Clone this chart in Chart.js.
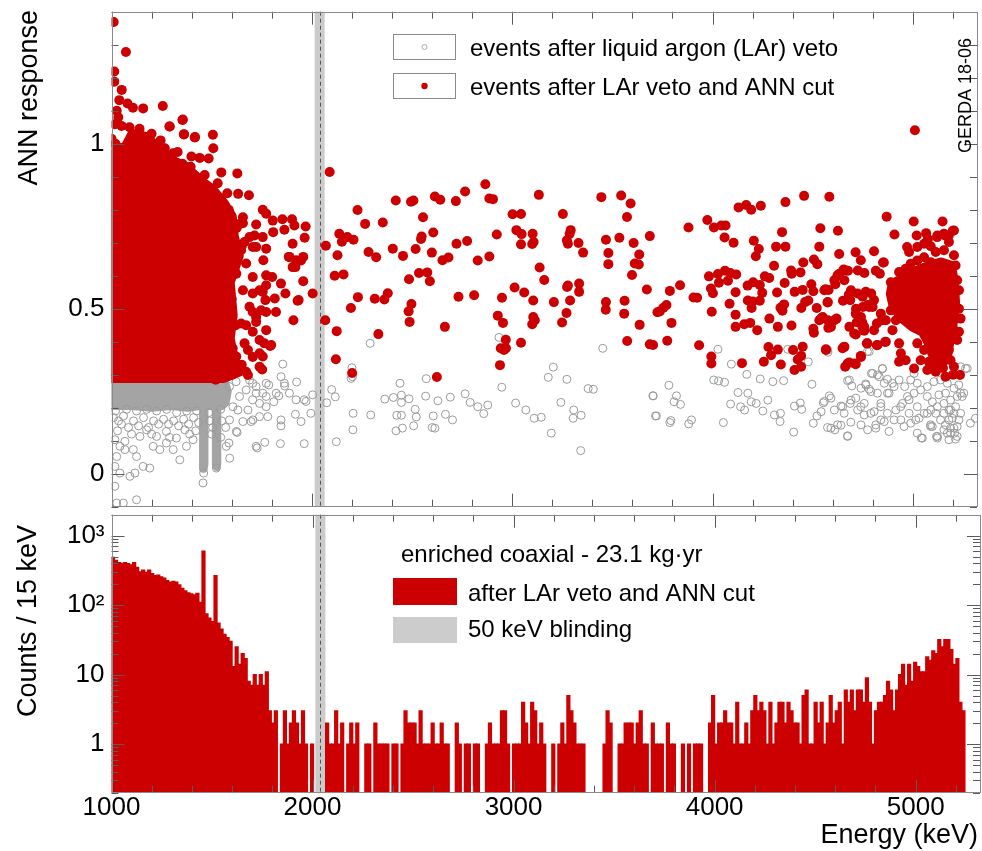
<!DOCTYPE html>
<html lang="en">
<head>
<meta charset="UTF-8">
<title>ANN response and energy spectrum, enriched coaxial</title>
<script src="https://cdn.jsdelivr.net/npm/chart.js"></script>
<style>
  html, body { margin: 0; padding: 0; background: #fff; }
  #wrap { position: relative; width: 982px; height: 851px; }
  canvas { position: absolute; left: 0; }
  #top { top: 0; }
  #bottom { top: 512px; }
</style>
</head>
<body>
<div id="wrap">
  <canvas id="top" width="982" height="512"></canvas>
  <canvas id="bottom" width="982" height="339"></canvas>
</div>
<script>
// ---- axes ----
const energyRange = [1000, 5320];
const annRange = [-0.1, 1.4];
const countRange = [0.2, 2000];
const energyTicks = [1000, 2000, 3000, 4000, 5000];
const annTicks = [0, 0.5, 1];
const countTicks = [1, 10, 100, 1000];
const countTickLabels = ['1', '10', '10²', '10³'];
const blindWindow = [2014, 2064];
const qbb = 2039;

// ---- top panel: events after LAr veto and ANN cut (red, filled) [keV, ANN] ----
const cutEvents = [
  [1011,1.369],[1072,1.278],[1014,1.219],[1014,1.188],[1051,1.163],[1039,1.132],[1080,1.122],[1107,1.109],[1158,1.107],[1256,1.114],
  [1026,1.100],[1034,1.080],[1017,1.059],[1050,1.054],[1354,1.072],[1289,1.052],[1361,1.028],[1417,1.020],[1506,1.027],[1508,0.986],
  [1266,0.986],[1307,0.971],[1354,0.939],[1399,0.961],[1440,0.957],[1485,0.955],[1548,0.913],[1628,0.910],[1578,0.850],[1632,0.848],
  [1686,0.844],[1755,0.800],[1772,0.788],[1805,0.767],[1853,0.771],[1901,0.771],[1656,0.759],[1722,0.755],[1807,0.732],[1863,0.739],
  [1913,0.752],[1969,0.749],[1964,0.715],[1904,0.697],[1705,0.687],[1772,0.682],[1664,0.702],[1888,0.657],[1957,0.657],[1755,0.717],
  [1714,0.722],[1918,0.626],[1946,0.646],[1957,0.583],[1846,0.576],[1868,0.546],[2004,0.546],[1815,0.531],[1821,0.490],[1929,0.524],
  [1908,0.465],[1772,0.601],[1802,0.596],[1772,0.571],[1705,0.546],[1755,0.551],[1768,0.526],[1705,0.490],[1747,0.495],[1772,0.490],
  [1722,0.460],[1672,0.450],[1705,0.430],[1772,0.435],[1739,0.405],[1763,0.395],[1797,0.390],[1705,0.354],[1739,0.365],[1681,0.375],
  [1752,0.316],[1681,0.299],[1672,0.309],[1356,1.073],[1291,1.052],[1362,1.029],[1415,1.019],[1934,0.526],[1885,0.657],[1921,0.647],
  [1904,0.626],[1758,0.647],[1792,0.387],[1755,0.355],[1739,0.324],[1689,0.717],[1722,0.687],[1672,0.637],[1705,0.596],[1739,0.556],
  [1689,0.506],[1722,0.475],[1656,0.777],[1639,0.757],[1647,0.677],[1623,0.606],[1656,0.556],[1647,0.455],[1664,0.395],[1623,0.355],
  [1000,1.015],[1020,1.000],[1090,1.050],[1140,1.045],[1200,1.030],[1245,1.010],[1330,0.975],[1395,0.930],[1465,0.905],[1530,0.880],
  [1585,0.800],[1625,0.745],[1650,0.690],[1615,0.615],[1600,0.530],[1620,0.450],[1605,0.380],[1650,0.330],[1600,0.300],[1520,0.285],
  [2089,0.914],[2070,0.691],[2128,0.662],[2137,0.727],[2150,0.703],[2177,0.717],[2208,0.709],[2228,0.799],[2266,0.757],[2354,0.761],
  [2283,0.672],[2321,0.656],[2404,0.682],[2419,0.828],[2455,0.660],[2495,0.824],[2507,0.828],[2555,0.777],[2545,0.711],[2548,0.719],
  [2518,0.681],[2606,0.731],[2599,0.670],[2614,0.840],[2641,0.830],[2719,0.826],[2765,0.855],[2722,0.697],[2775,0.705],[2652,0.647],
  [2682,0.655],[2535,0.608],[2576,0.610],[2589,0.583],[2485,0.589],[2114,0.600],[2158,0.604],[2230,0.535],[2195,0.502],[2314,0.530],
  [2362,0.528],[2379,0.547],[2497,0.514],[2483,0.492],[2488,0.460],[2067,0.465],[2124,0.432],[2332,0.423],[2120,0.347],[2201,0.305],
  [2624,0.293],[2664,0.445],[2732,0.536],[2810,0.541],[2866,0.877],[2886,0.834],[2904,0.832],[2828,0.646],[2886,0.658],[2923,0.725],
  [3002,0.786],[3044,0.787],[3021,0.738],[3047,0.726],[3044,0.695],[3102,0.727],[3107,0.702],[3100,0.696],[3133,0.845],[3137,0.625],
  [3160,0.587],[3012,0.564],[3060,0.549],[3105,0.525],[2949,0.533],[2928,0.479],[2954,0.457],[2968,0.406],[2943,0.380],[2959,0.375],
  [2969,0.380],[2939,0.329],[3044,0.397],[3105,0.475],[3113,0.465],[3100,0.453],[3208,0.520],[3253,0.787],[3292,0.738],[3287,0.727],
  [3273,0.707],[3278,0.697],[3331,0.699],[3354,0.670],[3278,0.570],[3274,0.566],[3334,0.576],[3334,0.551],[3289,0.525],[3271,0.487],
  [3249,0.458],[3445,0.838],[3544,0.843],[3591,0.819],[3573,0.778],[3468,0.709],[3535,0.715],[3606,0.699],[3480,0.669],[3480,0.635],
  [3634,0.664],[3612,0.637],[3632,0.634],[3598,0.602],[3687,0.720],[3672,0.558],[3468,0.520],[3467,0.497],[3561,0.524],[3559,0.485],
  [3636,0.451],[3574,0.402],[3687,0.392],[3703,0.390],[3725,0.489],
  [5010,1.041],[3880,0.746],[3974,0.769],[4007,0.746],[4044,0.752],[4065,0.752],[4060,0.716],[4105,0.700],[4130,0.807],[4168,0.814],
  [4193,0.800],[4241,0.812],[4364,0.823],[4457,0.842],[4583,0.839],[4347,0.732],[4317,0.688],[4364,0.688],[4206,0.706],[4231,0.681],
  [4216,0.659],[4538,0.744],[4626,0.736],[4533,0.688],[4632,0.666],[4307,0.630],[4453,0.640],[4506,0.649],[4523,0.635],[4392,0.616],
  [4439,0.610],[3982,0.598],[4027,0.605],[4062,0.615],[4089,0.608],[4118,0.604],[4032,0.579],[4077,0.585],[4175,0.570],[4203,0.580],
  [4236,0.572],[4261,0.598],[4283,0.593],[3992,0.561],[4002,0.547],[4115,0.550],[4176,0.525],[4200,0.522],[4195,0.502],[4248,0.548],
  [4322,0.549],[4360,0.578],[4395,0.606],[4410,0.551],[4450,0.557],[4493,0.574],[4503,0.553],[4564,0.559],[4579,0.557],[4613,0.574],
  [4627,0.601],[4654,0.619],[4676,0.615],[4714,0.671],[4740,0.647],[4806,0.674],[4851,0.640],[4815,0.615],[4835,0.606],[4725,0.616],
  [4758,0.608],[3905,0.534],[3923,0.533],[3838,0.571],[3787,0.554],[3770,0.511],[3755,0.503],[3737,0.492],[3795,0.457],[3774,0.403],
  [3933,0.389],[3996,0.491],[4085,0.515],[4115,0.482],[4115,0.445],[4158,0.453],[4188,0.457],[4223,0.435],[4236,0.524],[4284,0.470],
  [4326,0.445],[4339,0.503],[4349,0.494],[4357,0.513],[4394,0.449],[4462,0.520],[4478,0.525],[4443,0.502],[4520,0.502],[4574,0.519],
  [4541,0.470],[4503,0.439],[4506,0.427],[4578,0.442],[4588,0.449],[4619,0.470],[4651,0.524],[4680,0.542],[4687,0.526],[4715,0.485],
  [4720,0.459],[4750,0.505],[4765,0.551],[4782,0.505],[4792,0.546],[4806,0.526],[4748,0.445],[4757,0.433],[4748,0.457],[4715,0.422],
  [4773,0.395],[4820,0.389],[4861,0.399],[4806,0.435],[4845,0.465],[4566,0.377],[4656,0.383],[4740,0.357],[4682,0.337],[4662,0.324],
  [4715,0.332],[4442,0.357],[4425,0.346],[4450,0.385],[4402,0.375],[4409,0.314],[4442,0.324],[4341,0.331],[4256,0.339],[4292,0.359],
  [4279,0.384],[4326,0.376],[4147,0.335],[3994,0.355],[3994,0.334],[4869,0.779],[4908,0.725],[5004,0.764],[5019,0.722],[5148,0.764],
  [5199,0.736],[5160,0.722],[5179,0.722],[5121,0.717],[5066,0.729],[4855,0.640],[4971,0.687],[4981,0.672],[5022,0.687],[5056,0.697],
  [5075,0.711],[5089,0.689],[5122,0.722],[5155,0.727],[5205,0.737],[5180,0.702],[5114,0.672],[5155,0.677],[5205,0.662],[5213,0.631],
  [5022,0.646],[5056,0.656],[5089,0.641],[4931,0.611],[4964,0.621],[4989,0.636],[5221,0.586],[5230,0.556],[5230,0.500],[5238,0.470],
  [5230,0.430],[5221,0.405],[5235,0.299],[5163,0.294],[5114,0.309],[5072,0.314],[5205,0.324],[5097,0.365],[5056,0.375],[5022,0.395],
  [5138,0.354],[5180,0.375],[5039,0.344],[5080,0.339],[5188,0.344],[4931,0.395],[4940,0.365],[4964,0.344],[5006,0.319],[4931,0.339],
  [4898,0.435],[4915,0.465],[4890,0.495],[4865,0.465],[4840,0.485],[4820,0.455],[4799,0.505],[4774,0.511],[4749,0.536],[4724,0.546],
  [4691,0.556],[4666,0.616],[4658,0.586],[4633,0.606],[4716,0.500],[4741,0.475],[4757,0.445],[4770,0.395],[4823,0.390],[4683,0.445],
  [4658,0.385],[4707,0.425],[4741,0.354],[4707,0.334],[4674,0.334],[4865,0.400],[4608,0.465],[4591,0.445],[4575,0.465],[4550,0.475],
  [4533,0.465],[4566,0.375],[4649,0.380],[4558,0.556],[4575,0.520],[4608,0.586],[4624,0.601],
  [4890,0.580],[4905,0.545],[4950,0.520],[4985,0.575],[5030,0.600],[5000,0.520],[4960,0.480],[5050,0.480],[5095,0.430],[5110,0.600],
  [5170,0.620],[5190,0.580],[5150,0.500],[5200,0.440],[5170,0.400],[5120,0.380],[5090,0.330],[5150,0.320],[5200,0.300],[5060,0.560],
  [4920,0.570],[5010,0.460],[5100,0.510],[5210,0.520],[5140,0.440]
];
// saturated regions where the red markers overlap completely (outline of marker centres)
const cutCoreLow = [
  [1000,0.98],[1070,0.99],[1105,1.03],[1175,1.02],[1225,0.99],[1300,0.95],[1370,0.93],[1440,0.89],[1505,0.86],[1560,0.82],
  [1600,0.78],[1610,0.72],[1635,0.66],[1590,0.58],[1605,0.48],[1590,0.41],[1610,0.35],[1640,0.31],[1560,0.29],[1000,0.29]
];
const cutCoreHigh = [
  [4900,0.575],[4960,0.595],[5020,0.615],[5080,0.630],[5140,0.640],[5190,0.630],[5205,0.580],[5210,0.520],[5200,0.460],[5185,0.410],
  [5170,0.355],[5140,0.330],[5110,0.345],[5085,0.390],[5050,0.430],[5000,0.445],[4950,0.470],[4905,0.505],[4890,0.545]
];

// ---- top panel: events after LAr veto (grey, open) [keV, ANN] ----
const vetoEvents = [
  [1017,0.103],[1042,0.083],[1067,0.098],[1026,0.052],[1017,0.022],[1042,0.002],[1067,0.073],[1109,0.073],[1125,0.052],[1158,0.022],
  [1191,0.017],[1117,0.002],[1092,-0.008],[1017,-0.038],[1026,-0.089],[1059,-0.089],[1125,-0.079],[1208,0.083],[1241,0.073],[1274,0.093],
  [1308,0.073],[1341,0.042],[1374,0.083],[1407,0.103],[1142,0.113],[1175,0.133],[1225,0.113],[1274,0.128],[1324,0.108],[1366,0.133],
  [1573,0.083],[1590,0.047],[1623,0.128],[1656,0.158],[1681,0.193],[1706,0.163],[1722,0.083],[1457,-0.028],[1460,0.002],[1523,0.017],
  [1030,0.130],[1100,0.120],[1200,0.120],[1290,0.110],[1420,0.130],[1500,0.120],[1545,0.110],[1050,0.150],[1390,0.120],
  [1010,0.170],[1035,0.160],[1060,0.175],[1085,0.140],[1110,0.160],[1135,0.145],[1160,0.170],[1185,0.140],[1210,0.160],[1235,0.150],
  [1260,0.165],[1285,0.150],[1310,0.160],[1335,0.145],[1360,0.165],[1385,0.150],[1410,0.170],[1435,0.155],[1490,0.160],[1505,0.140],
  [1550,0.160],[1570,0.140],[1020,0.190],[1075,0.195],[1125,0.190],[1175,0.195],[1225,0.190],[1275,0.195],[1325,0.185],[1375,0.190],
  [1425,0.190],[1485,0.185],[1545,0.195],
  [1589,0.264],[1622,0.279],[1639,0.234],[1672,0.254],[1606,0.203],[1589,0.163],[1631,0.193],[1705,0.274],[1722,0.244],[1739,0.213],
  [1772,0.234],[1772,0.203],[1780,0.173],[1739,0.173],[1697,0.158],[1627,0.125],[1586,0.093],[1727,0.078],[1765,0.095],[1843,0.091],
  [1962,0.091],[1855,0.332],[1846,0.294],[1924,0.278],[1864,0.266],[1888,0.244],[1921,0.224],[1962,0.224],[2004,0.239],[1995,0.183],
  [1946,0.158],[1918,0.180],[1846,0.163],[1846,0.145],[1810,0.218],[1785,0.269],[1835,0.236],[1863,0.274],[1772,0.274],[1722,0.264],
  [1689,0.284],[1755,0.244],[1705,0.224],[1822,0.244],[1971,0.219],
  [2291,0.395],[2200,0.321],[2196,0.289],[2203,0.294],[2099,0.255],[2117,0.233],[2074,0.215],[2206,0.183],[2205,0.133],[2122,0.097],
  [2294,0.178],[2364,0.226],[2407,0.231],[2447,0.238],[2485,0.227],[2447,0.216],[2440,0.274],[2571,0.288],[2568,0.235],[2629,0.221],
  [2691,0.232],[2424,0.177],[2447,0.177],[2516,0.195],[2521,0.172],[2606,0.175],[2667,0.180],[2702,0.163],[2420,0.130],[2452,0.138],
  [2508,0.145],[2601,0.140],[2614,0.138],[2765,0.242],[2790,0.216],[2828,0.203],[2878,0.208],[2858,0.182],[2948,0.262],[2934,0.413],
  [3017,0.214],[3068,0.193],[3110,0.168],[3145,0.171],[3180,0.292],[3205,0.323],[3273,0.286],[3243,0.216],[3307,0.193],[3304,0.168],
  [3344,0.177],[3195,0.123],[3342,0.070],[3379,0.258],[3405,0.256],[3452,0.380],[3702,0.236],[3715,0.175],
  [4027,0.377],[4094,0.332],[4006,0.284],[4030,0.281],[4060,0.277],[4171,0.301],[4238,0.287],[4301,0.279],[4355,0.282],[4375,0.377],
  [4576,0.368],[4478,0.339],[3704,0.236],[3820,0.236],[3782,0.268],[3808,0.218],[3840,0.210],[3720,0.175],[3787,0.155],[3792,0.161],
  [3881,0.151],[3895,0.163],[4054,0.155],[4090,0.211],[4140,0.203],[4160,0.193],[4127,0.246],[4176,0.244],[4193,0.218],[4218,0.213],
  [4251,0.190],[4276,0.223],[4309,0.178],[4339,0.183],[4337,0.158],[4405,0.126],[4409,0.205],[4438,0.214],[4445,0.195],[4496,0.271],
  [4503,0.153],[4521,0.175],[4553,0.215],[4583,0.236],[4574,0.140],[4611,0.133],[4641,0.147],[4674,0.115],[4690,0.156],[4641,0.205],
  [4657,0.183],[4687,0.213],[4715,0.229],[4740,0.203],[4674,0.282],[4695,0.266],[4765,0.269],[4782,0.256],[4793,0.304],[4823,0.299],
  [4848,0.318],[4873,0.286],[4898,0.274],[4773,0.370],[4815,0.148],[4840,0.163],[4881,0.128],[4757,0.178],[4806,0.188],[4840,0.213],
  [4873,0.244],[4939,0.203],[4981,0.224],[5014,0.163],[5042,0.108],[5088,0.148],[5118,0.113],[5155,0.133],[5188,0.123],[5213,0.105],
  [5238,0.324],[5263,0.319],[5287,0.153],[5312,0.168],[5229,0.269],[5246,0.234],
  [4575,0.375],[4782,0.370],[4683,0.284],[4799,0.304],[4832,0.294],[4848,0.319],[4741,0.259],[4765,0.272],[4790,0.249],[4823,0.244],
  [4857,0.274],[4881,0.244],[4906,0.264],[4931,0.284],[4959,0.264],[4989,0.284],[5006,0.304],[5022,0.274],[4591,0.229],[4558,0.219],
  [4542,0.188],[4608,0.193],[4649,0.203],[4691,0.223],[4724,0.193],[4757,0.213],[4790,0.183],[4840,0.203],[4873,0.183],[4915,0.193],
  [4948,0.213],[4973,0.234],[5006,0.244],[5039,0.254],[5072,0.264],[5105,0.279],[5138,0.284],[5172,0.274],[5205,0.259],[5238,0.244],
  [5271,0.319],[4591,0.138],[4624,0.148],[4674,0.113],[4741,0.148],[4774,0.133],[4815,0.138],[4857,0.158],[4906,0.163],[4956,0.143],
  [4989,0.153],[5031,0.168],[5056,0.183],[5089,0.193],[5122,0.203],[5155,0.213],[5188,0.223],[5221,0.234],[5254,0.244],[5022,0.123],
  [5047,0.108],[5097,0.143],[5122,0.108],[5172,0.123],[5180,0.163],[5205,0.183],[5221,0.143],[5238,0.183],[5213,0.203],[5155,0.183],
  [5180,0.193],[5197,0.168],[5138,0.163],[5114,0.183],[5163,0.148],[5188,0.138],[5208,0.123],[5230,0.163],[5072,0.234],[5097,0.218],
  [5130,0.239],[5163,0.244],[5188,0.193],[5072,0.183],[5022,0.203],[4981,0.183],[4940,0.163],[5089,0.143],[5221,0.113],[5180,0.103],
  [5122,0.113],[5205,0.138]
];
// saturated grey band below the cut and the K-40 / K-42 lines
const vetoCore = [
  [1000,0.28],[1565,0.28],[1580,0.25],[1570,0.215],[1550,0.205],[1440,0.205],[1380,0.2],[1300,0.205],[1200,0.2],[1100,0.205],
  [1000,0.205]
];
const vetoK40 = [[1457,0.2],[1464,0.2],[1464,0.03],[1460,0.015],[1457,0.03]];
const vetoK42 = [[1521,0.2],[1528,0.2],[1528,0.03],[1525,0.02],[1521,0.03]];

// ---- bottom panel: counts per 15 keV bin from 1000 keV ----
const histStart = 1000;
const binWidth = 15;
const counts = [
  487,440,410,400,410,395,380,410,350,300,
  320,295,320,285,265,270,255,245,225,215,
  220,215,195,175,160,150,145,140,148,110,
  600,75,65,58,265,55,45,38,34,30,
  13,25,14,20,17,8,7,10,7,10,
  7,11,3,2,3,0,1,3,1,2,
  3,2,1,3,1,0,1,
  0,0,0,0,
  2,1,1,3,1,2,0,1,2,1,
  2,0,0,1,1,0,2,1,1,1,
  1,0,1,1,0,1,3,2,2,2,
  1,3,1,1,1,2,1,1,2,1,
  1,0,0,2,1,0,1,1,0,1,
  1,0,0,1,2,1,1,1,3,3,
  1,0,1,1,1,4,2,1,4,3,
  1,2,1,0,0,1,0,1,2,1,
  5,3,2,1,1,1,0,0,0,0,
  0,0,1,3,2,0,0,1,1,2,
  2,2,1,2,3,1,1,0,2,1,
  1,1,0,2,1,1,0,0,1,0,
  1,0,1,1,1,0,0,2,5,1,
  2,2,3,2,2,1,4,1,1,2,
  1,3,5,3,4,3,1,4,1,2,
  4,4,2,4,3,2,2,1,5,6,
  1,1,4,2,4,1,2,5,2,3,
  4,1,6,4,6,3,6,6,4,9,
  4,1,3,4,4,5,8,6,3,6,
  10,14,7,14,8,15,13,11,11,18,
  16,22,20,32,25,32,32,23,14,17,
  4,3
];

const legendVeto = 'events after liquid argon (LAr) veto';
const legendCut = 'events after LAr veto and ANN cut';
const exposureLabel = 'enriched coaxial - 23.1 kg·yr';
const histLabel = 'after LAr veto and ANN cut';
const blindLabel = '50 keV blinding';

// ---- styling ----
const RED = '#cc0000';
const GREY = '#9a9a9a';
const GREY_FILL = '#a4a4a4';
const RED_R = 5;
const GREY_R = 4;
const FONT = "'Liberation Sans', Arial, Helvetica, sans-serif";
Chart.defaults.font.family = FONT;
Chart.defaults.color = '#000';

const toXY = pts => pts.map(([x, y]) => ({x, y}));
const closed = pts => toXY(pts.concat([pts[0]]));
const polygon = (pts, color, width, order) => ({
  type: 'line', data: closed(pts), borderColor: color, backgroundColor: color,
  borderWidth: width, borderJoinStyle: 'round', borderCapStyle: 'round',
  pointRadius: 0, fill: 'shape', tension: 0, clip: 0, order
});
// keep the chart area where the frame is, whatever the tick labels need
const noPad = s => { s.paddingTop = 0; s.paddingBottom = 0; s.paddingLeft = 0; s.paddingRight = 0; };

const annMarks = [];
for (let i = -1; i <= 14; i++) annMarks.push([i / 10, i % 5 === 0]);
const countMarks = [];
[0.1, 1, 10, 100, 1000].forEach(d => {
  for (let m = 1; m <= 9; m++) {
    const v = m * d;
    if (v >= 0.2 && v <= 2000) countMarks.push([v, m === 1]);
  }
});

function vText(ctx, text, x, yEnd, font) {
  ctx.save();
  ctx.font = font;
  ctx.textAlign = 'right';
  ctx.textBaseline = 'alphabetic';
  ctx.translate(x, yEnd);
  ctx.rotate(-Math.PI / 2);
  ctx.fillText(text, 0, 0);
  ctx.restore();
}

const blinding = {
  id: 'blinding',
  beforeDatasetsDraw(chart) {
    const {ctx, chartArea: a, scales: {x}} = chart;
    const x0 = x.getPixelForValue(blindWindow[0]);
    const x1 = x.getPixelForValue(blindWindow[1]);
    const xq = Math.round(x.getPixelForValue(qbb)) + 0.5;
    ctx.save();
    ctx.fillStyle = '#cbcbcb';
    ctx.fillRect(x0, a.top, x1 - x0, a.bottom - a.top);
    ctx.strokeStyle = '#555';
    ctx.lineWidth = 1;
    ctx.setLineDash([4, 3]);
    ctx.beginPath();
    ctx.moveTo(xq, a.top);
    ctx.lineTo(xq, a.bottom);
    ctx.stroke();
    ctx.restore();
  }
};

// frame with inward ticks, drawn on all four sides
const frame = {
  id: 'frame',
  afterDatasetsDraw(chart, args, opts) {
    const {ctx, chartArea: a, scales: {x, y}} = chart;
    ctx.save();
    ctx.lineWidth = 1;
    ctx.strokeStyle = '#5a5a5a';
    ctx.beginPath();
    for (let e = energyRange[0]; e <= energyRange[1]; e += 200) {
      const p = Math.round(x.getPixelForValue(e)) + 0.5;
      const len = e % 1000 === 0 ? 13 : 7;
      ctx.moveTo(p, a.bottom); ctx.lineTo(p, a.bottom - len);
      ctx.moveTo(p, a.top); ctx.lineTo(p, a.top + len);
    }
    for (const [v, major] of opts.yMarks) {
      const p = Math.round(y.getPixelForValue(v)) + 0.5;
      const len = major ? 13 : 7;
      ctx.moveTo(a.left, p); ctx.lineTo(a.left + len, p);
      ctx.moveTo(a.right, p); ctx.lineTo(a.right - len, p);
    }
    ctx.stroke();
    ctx.strokeStyle = '#8a8a8a';
    ctx.strokeRect(Math.round(a.left) + 0.5, Math.round(a.top) + 0.5,
                   Math.round(a.right - a.left) - 1, Math.round(a.bottom - a.top) - 1);
    ctx.restore();
  }
};

const topText = {
  id: 'topText',
  afterDraw(chart) {
    const ctx = chart.ctx;
    ctx.save();
    ctx.fillStyle = '#000';
    vText(ctx, 'ANN response', 37, 10, `27px ${FONT}`);
    vText(ctx, 'GERDA 18-06', 971, 38, `18px ${FONT}`);
    ctx.strokeStyle = '#8a8a8a';
    ctx.lineWidth = 1;
    ctx.strokeRect(393.5, 34.5, 62, 25);
    ctx.strokeRect(393.5, 73.5, 62, 25);
    ctx.beginPath();
    ctx.arc(424.5, 47, 2.5, 0, 2 * Math.PI);
    ctx.strokeStyle = '#aaa';
    ctx.stroke();
    ctx.beginPath();
    ctx.arc(424.5, 86, 3.2, 0, 2 * Math.PI);
    ctx.fillStyle = RED;
    ctx.fill();
    ctx.fillStyle = '#000';
    ctx.font = `24px ${FONT}`;
    ctx.textAlign = 'left';
    ctx.textBaseline = 'alphabetic';
    ctx.fillText(legendVeto, 470, 55.5);
    ctx.fillText(legendCut, 470, 94.5);
    ctx.restore();
  }
};

const bottomText = {
  id: 'bottomText',
  afterDraw(chart) {
    const ctx = chart.ctx;
    ctx.save();
    ctx.fillStyle = '#000';
    vText(ctx, 'Counts / 15 keV', 36, 13, `27px ${FONT}`);
    ctx.font = `27px ${FONT}`;
    ctx.textAlign = 'right';
    ctx.textBaseline = 'alphabetic';
    ctx.fillText('Energy (keV)', 978, 331);
    ctx.font = `24px ${FONT}`;
    ctx.textAlign = 'left';
    ctx.fillText(exposureLabel, 401, 50);
    ctx.fillStyle = RED;
    ctx.fillRect(393, 66, 64, 27);
    ctx.fillStyle = '#cccccc';
    ctx.fillRect(393, 105, 64, 26);
    ctx.fillStyle = '#000';
    ctx.fillText(histLabel, 468, 88.5);
    ctx.fillText(blindLabel, 468, 124.5);
    ctx.restore();
  }
};

const noGrid = {display: false, drawTicks: false};

new Chart(document.getElementById('top'), {
  type: 'scatter',
  data: {
    datasets: [
      {data: toXY(cutEvents), pointRadius: RED_R, pointBackgroundColor: RED, pointBorderWidth: 0, order: 0},
      polygon(cutCoreLow, RED, 2 * RED_R, 1),
      polygon(cutCoreHigh, RED, 2 * RED_R, 1),
      {data: toXY(vetoEvents), pointRadius: GREY_R, pointBackgroundColor: 'rgba(0,0,0,0)',
       pointBorderColor: GREY, pointBorderWidth: 1, order: 2},
      polygon(vetoCore, GREY_FILL, 2 * GREY_R, 3),
      polygon(vetoK40, GREY_FILL, 2 * GREY_R, 3),
      polygon(vetoK42, GREY_FILL, 2 * GREY_R, 3)
    ]
  },
  options: {
    responsive: false, animation: false, devicePixelRatio: 1, events: [],
    layout: {padding: {top: 11.7, right: 2, bottom: 5.3, left: 0}},
    scales: {
      x: {type: 'linear', min: energyRange[0], max: energyRange[1], display: false},
      y: {
        type: 'linear', min: annRange[0], max: annRange[1],
        afterFit: s => { s.width = 111.5; noPad(s); },
        afterBuildTicks: s => { s.ticks = annTicks.map(value => ({value})); },
        grid: noGrid, border: {display: false},
        ticks: {padding: 7, font: {size: 26}, color: '#000', autoSkip: false, callback: v => String(v)}
      }
    },
    plugins: {legend: {display: false}, tooltip: {enabled: false}, frame: {yMarks: annMarks}}
  },
  plugins: [blinding, frame, topText]
});

new Chart(document.getElementById('bottom'), {
  type: 'bar',
  data: {
    datasets: [{
      data: counts.map((c, i) => ({x: histStart + binWidth * (i + 0.5), y: c > 0 ? c : null})),
      backgroundColor: RED, borderWidth: 0, barPercentage: 1, categoryPercentage: 1, inflateAmount: 0.6
    }]
  },
  options: {
    responsive: false, animation: false, devicePixelRatio: 1, events: [],
    layout: {padding: {top: 2.7, right: 2, bottom: 0, left: 0}},
    scales: {
      x: {
        type: 'linear', min: energyRange[0], max: energyRange[1], offset: false,
        afterFit: s => { s.height = 58.3; noPad(s); },
        afterBuildTicks: s => { s.ticks = energyTicks.map(value => ({value})); },
        grid: noGrid, border: {display: false},
        ticks: {padding: 0, font: {size: 26}, color: '#000', maxRotation: 0, autoSkip: false, callback: v => String(v)}
      },
      y: {
        type: 'logarithmic', min: countRange[0], max: countRange[1],
        afterFit: s => { s.width = 111.5; noPad(s); },
        afterBuildTicks: s => { s.ticks = countTicks.map(value => ({value})); },
        grid: noGrid, border: {display: false},
        ticks: {padding: 7, font: {size: 26}, color: '#000', autoSkip: false,
                callback: v => countTickLabels[countTicks.indexOf(v)]}
      }
    },
    plugins: {legend: {display: false}, tooltip: {enabled: false}, frame: {yMarks: countMarks}}
  },
  plugins: [blinding, frame, bottomText]
});
</script>
</body>
</html>
